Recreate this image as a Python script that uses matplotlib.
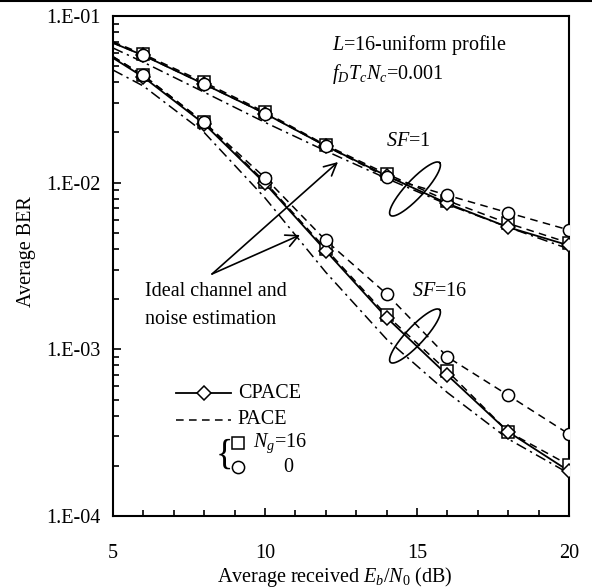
import matplotlib
matplotlib.use("Agg")
import numpy as np
import matplotlib.pyplot as plt
from matplotlib.lines import Line2D
from matplotlib.ticker import FixedLocator, NullFormatter

# ---------------- data ----------------
ebn0 = [5, 6, 8, 10, 12, 14, 16, 18, 20]

# SF = 1
sf1_cpace = [0.0689, 0.058, 0.039, 0.026, 0.0166, 0.0110, 0.0075, 0.0054, 0.0042]
sf1_pace_ng16 = [0.070, 0.059, 0.040, 0.0265, 0.0168, 0.0113, 0.0078, 0.0057, 0.00435]
sf1_pace_ng0 = [0.069, 0.058, 0.039, 0.026, 0.0166, 0.0108, 0.0084, 0.0066, 0.0052]
sf1_ideal = [0.0643, 0.0528, 0.0349, 0.023, 0.0155, 0.0106, 0.0074, 0.0054, 0.0040]

# SF = 16
sf16_cpace = [0.056, 0.043, 0.0225, 0.0099, 0.0039, 0.00155, 0.00070, 0.00032, 0.000186]
sf16_pace_ng16 = [0.057, 0.044, 0.023, 0.0101, 0.0040, 0.0016, 0.00074, 0.00032, 0.000202]
sf16_pace_ng0 = [0.057, 0.044, 0.023, 0.0107, 0.0045, 0.00215, 0.00090, 0.00053, 0.00031]
sf16_ideal = [0.0474, 0.038, 0.020, 0.0081, 0.0029, 0.00115, 0.00055, 0.00029, 0.00018]

ytick_vals = [1e-4, 1e-3, 1e-2, 1e-1]
ytick_labels = ["1.E-04", "1.E-03", "1.E-02", "1.E-01"]
xtick_vals = [5, 10, 15, 20]
xtick_labels = ["5", "10", "15", "20"]

# ---------------- style ----------------
plt.rcParams["font.family"] = ["Liberation Serif", "DejaVu Serif"]
plt.rcParams["mathtext.fontset"] = "custom"
plt.rcParams["mathtext.rm"] = "Liberation Serif"
plt.rcParams["mathtext.it"] = "Liberation Serif:italic"
FS = 14.5

W, H = 592, 588
fig = plt.figure(figsize=(W / 100, H / 100), dpi=100)
ax = fig.add_axes([113 / W, 1 - 516 / H, 456 / W, 500 / H])


def fx(px):
    return px / W


def fy(py):
    return 1 - py / H


ax.set_yscale("log")
ax.set_xlim(5, 20)
ax.set_ylim(1e-4, 1e-1)

lw = 1.1
dash = (0, (5, 3.5))
dashdot = (0, (7, 3, 1.5, 3))
mk_all = slice(1, None)
mew = 1.1
msz_c = 8.8
msz_s = 8.2
msz_d = 7.2

for ideal in (sf1_ideal, sf16_ideal):
    ax.plot(ebn0, ideal, color="black", lw=lw, linestyle=dashdot, zorder=2)

for ng16, ng0, cp in ((sf1_pace_ng16, sf1_pace_ng0, sf1_cpace),
                      (sf16_pace_ng16, sf16_pace_ng0, sf16_cpace)):
    ax.plot(ebn0, ng16, color="black", lw=lw, linestyle=dash, zorder=3)
    ax.plot(ebn0, ng0, color="black", lw=lw, linestyle=dash, zorder=3)
    ax.plot(ebn0, cp, color="black", lw=lw + 0.2, linestyle="-", zorder=4)
    ax.plot(ebn0, ng16, linestyle="none", marker="s", markersize=msz_s,
            markerfacecolor="white", markeredgecolor="black", markeredgewidth=mew,
            markevery=mk_all, zorder=5)
    ax.plot(ebn0, cp, linestyle="none", marker="D", markersize=msz_d,
            markerfacecolor="white", markeredgecolor="black", markeredgewidth=mew,
            markevery=mk_all, zorder=6)
    ax.plot(ebn0, ng0, linestyle="none", marker="o", markersize=msz_c,
            markerfacecolor="white", markeredgecolor="black", markeredgewidth=mew,
            markevery=mk_all, zorder=7)

# axes and ticks
for s in ax.spines.values():
    s.set_linewidth(1.5)
ax.yaxis.set_major_locator(FixedLocator(ytick_vals))
ax.set_yticklabels(ytick_labels)
ax.yaxis.set_minor_locator(FixedLocator(
    [m * 10.0 ** e for e in (-4, -3, -2) for m in range(2, 10)]))
ax.yaxis.set_minor_formatter(NullFormatter())
ax.xaxis.set_major_locator(FixedLocator(xtick_vals))
ax.set_xticklabels(xtick_labels)
ax.xaxis.set_minor_locator(FixedLocator(list(range(6, 20))))
ax.tick_params(which="major", direction="in", length=6, width=1.2, labelsize=FS)
ax.tick_params(which="minor", direction="in", length=4, width=1.2)
ax.tick_params(axis="x", which="major", pad=20)
ax.tick_params(axis="y", which="major", pad=9)

fig.text(fx(26), fy(252), "Average BER", rotation=90, ha="center", va="center",
         fontsize=FS)
fig.text(fx(335), fy(577), "Average received $E_b$/$N_0$ (dB)", ha="center",
         va="center", fontsize=FS)

# annotations
fig.text(fx(332), fy(45), "$L$=16-uniform profile", ha="left", va="center", fontsize=FS)
fig.text(fx(332), fy(74), "$f_DT_cN_c$=0.001", ha="left", va="center", fontsize=FS)
fig.text(fx(386), fy(141), "$SF$=1", ha="left", va="center", fontsize=FS)
fig.text(fx(412), fy(292), "$SF$=16", ha="left", va="center", fontsize=FS)
fig.text(fx(145), fy(291), "Ideal channel and", ha="left", va="center", fontsize=FS)
fig.text(fx(145), fy(319), "noise estimation", ha="left", va="center", fontsize=FS)


def ellipse(cx, cy, a, b, ang_deg):
    t = np.linspace(0, 2 * np.pi, 200)
    th = np.deg2rad(ang_deg)
    xs = cx + a * np.cos(t) * np.cos(th) - b * np.sin(t) * np.sin(th)
    ys = cy - (a * np.cos(t) * np.sin(th) + b * np.sin(t) * np.cos(th))
    fig.add_artist(Line2D(fx(xs), fy(ys), color="black", lw=1.2,
                          transform=fig.transFigure))


ellipse(415, 189, 36, 9, 47)
ellipse(415, 336, 36, 9, 47)

for tip in ((338, 162), (300, 235)):
    ax.annotate("", xy=(fx(tip[0]), fy(tip[1])), xycoords="figure fraction",
                xytext=(fx(212), fy(274)), textcoords="figure fraction",
                arrowprops=dict(arrowstyle="->", color="black", lw=1.2,
                                mutation_scale=22, shrinkA=0, shrinkB=0))

# manual legend
fig.add_artist(Line2D([fx(176), fx(231)], [fy(393), fy(393)], color="black", lw=lw + 0.2,
                      transform=fig.transFigure))
fig.add_artist(Line2D([fx(204)], [fy(393)], marker="D", markersize=msz_d,
                      markerfacecolor="white", markeredgecolor="black",
                      markeredgewidth=mew, transform=fig.transFigure))
fig.text(fx(238), fy(393), "CPACE", ha="left", va="center", fontsize=FS)
fig.add_artist(Line2D([fx(176), fx(231)], [fy(420), fy(420)], color="black", lw=lw,
                      linestyle=dash, transform=fig.transFigure))
fig.text(fx(237), fy(420), "PACE", ha="left", va="center", fontsize=FS)
fig.text(fx(224), fy(455), "{", ha="center", va="center", fontsize=26)
fig.add_artist(Line2D([fx(238)], [fy(443)], marker="s", markersize=msz_s,
                      markerfacecolor="white", markeredgecolor="black",
                      markeredgewidth=mew, transform=fig.transFigure))
fig.add_artist(Line2D([fx(238)], [fy(467)], marker="o", markersize=msz_c,
                      markerfacecolor="white", markeredgecolor="black",
                      markeredgewidth=mew, transform=fig.transFigure))
fig.text(fx(253), fy(443), "$N_g$=16", ha="left", va="center", fontsize=FS)
fig.text(fx(283), fy(467), "0", ha="left", va="center", fontsize=FS)

# top border line of the source page
fig.add_artist(Line2D([0, 1], [fy(1), fy(1)], color="black", lw=1.5,
                      transform=fig.transFigure))

fig.savefig("out.png", dpi=100)
